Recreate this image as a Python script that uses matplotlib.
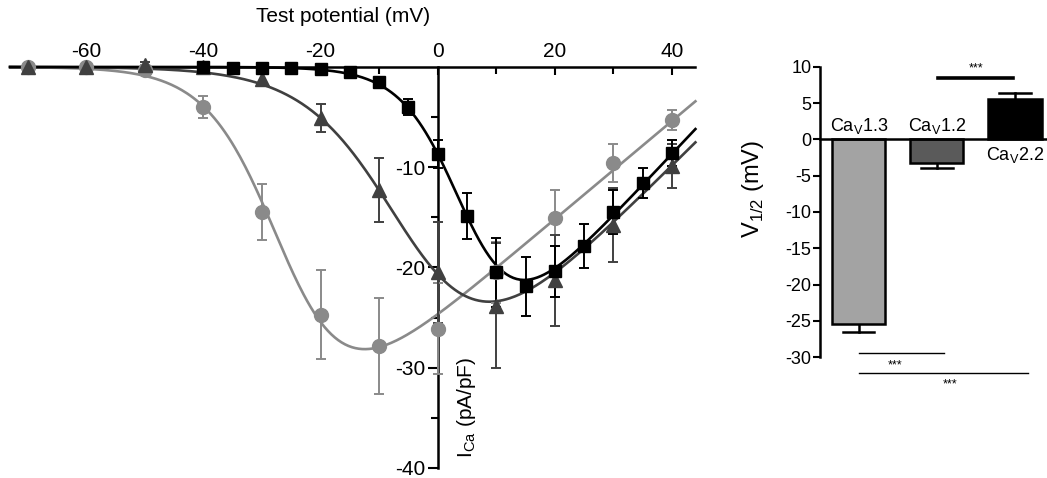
import numpy as np
import matplotlib.pyplot as plt

plt.rcParams['font.family'] = ['Liberation Sans', 'DejaVu Sans']
plt.rcParams['axes.unicode_minus'] = False

# IV data (mean +- SEM)
v13 = [-70, -60, -50, -40, -30, -20, -10, 0, 10, 20, 30, 40]
i13 = [0, 0, -0.3, -4.0, -14.5, -24.7, -27.8, -26.1, -20.5, -15.1, -9.6, -5.3]
e13 = [0.3, 0.3, 0.5, 1.1, 2.8, 4.4, 4.8, 4.5, 3.0, 2.8, 1.9, 1.0]

v12 = [-70, -60, -50, -40, -30, -20, -10, 0, 10, 20, 30, 40]
i12 = [0, 0, 0.2, 0, -1.2, -5.1, -12.3, -20.5, -23.8, -21.3, -15.8, -9.9]
e12 = [0.3, 0.3, 0.3, 0.3, 0.6, 1.4, 3.2, 5.0, 6.2, 4.5, 3.7, 2.2]

v22 = [-40, -35, -30, -25, -20, -15, -10, -5, 0, 5, 10, 15, 20, 25, 30, 35, 40]
i22 = [0, -0.1, -0.1, -0.1, -0.2, -0.5, -1.5, -4.0, -8.7, -14.9, -20.5, -21.9,
       -20.4, -17.9, -14.5, -11.6, -8.6]
e22 = [0.2, 0.2, 0.2, 0.2, 0.2, 0.3, 0.4, 0.8, 1.4, 2.3, 3.4, 2.9, 2.5, 2.2,
       2.2, 1.5, 1.3]

# Boltzmann-IV fit parameters: Gmax, Erev, V50, k
fit13 = (0.49, 51, -26, 6.0)
fit12 = (0.58, 57, -4, 7.8)
fit22 = (0.62, 54, 5.2, 4.95)

# V1/2 bars
channels = ['Ca$_\\mathregular{V}$1.3', 'Ca$_\\mathregular{V}$1.2', 'Ca$_\\mathregular{V}$2.2']
vhalf = [-25.5, -3.2, 5.6]
vhalf_err = [1.0, 0.7, 0.85]

c13 = '#8a8a8a'
c12 = '#404040'
c22 = '#000000'


def boltz_iv(v, g, e, v50, k):
    return g * (v - e) / (1 + np.exp((v50 - v) / k))


fig = plt.figure(figsize=(10.47, 4.78), dpi=100)
ax = fig.add_axes([0.0096, 0.021, 0.6546, 0.839])

vv = np.linspace(-73, 44, 400)
for v, i, e, fit, c, m, ms in [(v13, i13, e13, fit13, c13, 'o', 10),
                               (v12, i12, e12, fit12, c12, '^', 10),
                               (v22, i22, e22, fit22, c22, 's', 9)]:
    ax.plot(vv, boltz_iv(vv, *fit), color=c, lw=1.9, clip_on=False, zorder=3)
    ax.errorbar(v, i, yerr=e, fmt=m, color=c, ms=ms, capsize=3.5, elinewidth=1.4,
                capthick=1.4, clip_on=False, zorder=4)

ax.set_xlim(-73, 44)
ax.set_ylim(-40, 0)
ax.spines['right'].set_visible(False)
ax.spines['bottom'].set_visible(False)
ax.spines['left'].set_position(('data', 0))
ax.spines['left'].set_linewidth(1.8)
ax.spines['top'].set_linewidth(1.8)
ax.spines['left'].set_zorder(2)
ax.spines['top'].set_zorder(2)
ax.xaxis.tick_top()
ax.set_xticks([-60, -40, -20, 0, 20, 40])
ax.set_xticks([-50, -30, -10, 10, 30], minor=True)
ax.set_yticks([-40, -30, -20, -10])
ax.set_yticks([-35, -25, -15, -5], minor=True)
ax.tick_params(axis='x', which='both', direction='in', labelsize=15, pad=4, width=1.5)
ax.tick_params(axis='x', which='major', length=6)
ax.tick_params(axis='x', which='minor', length=5)
ax.tick_params(axis='y', which='both', direction='out', labelsize=15, pad=2, width=1.5)
ax.tick_params(axis='y', which='major', length=7)
ax.tick_params(axis='y', which='minor', length=5)
ax.patch.set_visible(False)
ax.set_title('Test potential (mV)', fontsize=15, pad=32, x=0.486)
ax.text(4.9, -34, 'I$_\\mathregular{Ca}$ (pA/pF)', rotation=90, fontsize=15,
        ha='center', va='center')

# right panel
bx = fig.add_axes([0.783, 0.253, 0.217, 0.607])
xpos = np.arange(3)
bx.bar(xpos, vhalf, width=0.68, color=['#a3a3a3', '#5a5a5a', '#000000'],
       edgecolor='black', linewidth=1.8, zorder=2)
for x, y, err in zip(xpos, vhalf, vhalf_err):
    y2 = y + np.sign(y) * err
    bx.plot([x, x], [y, y2], color='black', lw=1.8, zorder=1)
    bx.plot([x - 0.2, x + 0.2], [y2, y2], color='black', lw=1.8)

bx.set_xlim(-0.5, 2.41)
bx.set_ylim(-30, 10)
bx.spines['right'].set_visible(False)
bx.spines['top'].set_visible(False)
bx.spines['bottom'].set_position(('data', 0))
bx.spines['bottom'].set_linewidth(1.8)
bx.spines['left'].set_linewidth(1.8)
bx.set_xticks([])
bx.set_yticks(np.arange(-30, 11, 5))
bx.tick_params(axis='y', direction='out', length=5, width=1.5, labelsize=13, pad=1)
bx.set_ylabel('V$_\\mathregular{1/2}$ (mV)', fontsize=17)
bx.yaxis.set_label_coords(-0.235, 0.58)
bx.patch.set_visible(False)

bx.text(0, 0.5, channels[0], ha='center', va='bottom', fontsize=13)
bx.text(1, 0.5, channels[1], ha='center', va='bottom', fontsize=13)
bx.text(2, -0.8, channels[2], ha='center', va='top', fontsize=13)

# significance marks
bx.plot([1.01, 1.98], [8.5, 8.5], color='black', lw=2.6)
bx.text(1.5, 9.0, '***', ha='center', va='bottom', fontsize=9)
bx.plot([0, 1.09], [-29.5, -29.5], color='black', lw=1.0, clip_on=False)
bx.text(0.46, -30.3, '***', ha='center', va='top', fontsize=9)
bx.plot([0, 2.17], [-32.2, -32.2], color='black', lw=1.0, clip_on=False)
bx.text(1.17, -33.0, '***', ha='center', va='top', fontsize=9)

fig.savefig('out.png', dpi=100)
